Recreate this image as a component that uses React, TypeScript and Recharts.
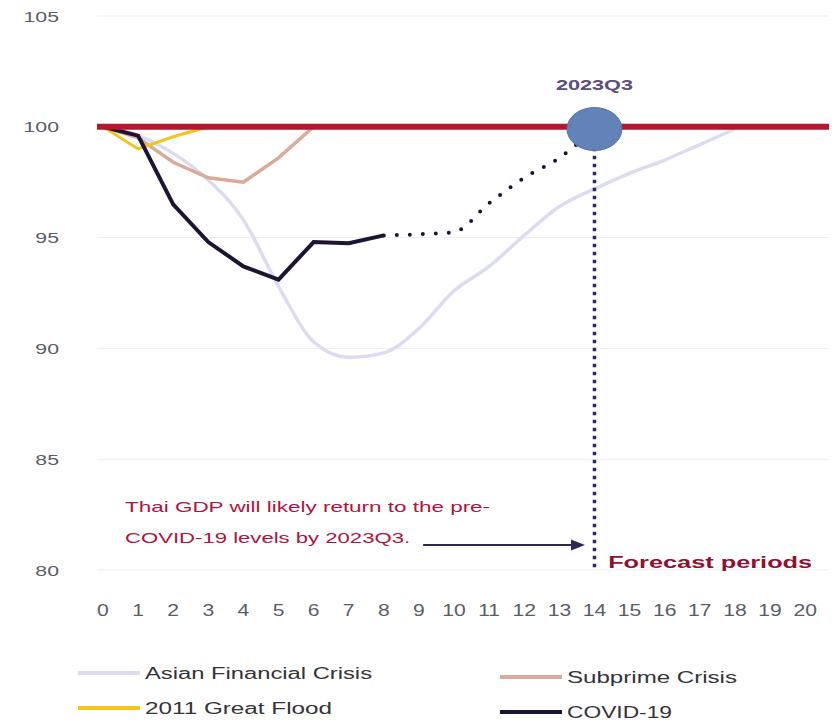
import React from 'react';
import {
  LineChart,
  Line,
  XAxis,
  YAxis,
  CartesianGrid,
  ReferenceLine,
  ReferenceDot,
  Legend,
} from 'recharts';

// ---- data ----
const quarters = [0, 1, 2, 3, 4, 5, 6, 7, 8, 9, 10, 11, 12, 13, 14, 15, 16, 17, 18, 19, 20];
const asianCrisis = [100, 99.6, 98.8, 97.6, 95.8, 92.8, 90.3, 89.6, 89.8, 90.9, 92.6, 93.7, 95.1, 96.4, 97.2, 97.9, 98.5, 99.2, 99.9, null, null];
const subprimeCrisis = [100, 99.5, 98.4, 97.7, 97.5, 98.6, 100, null, null, null, null, null, null, null, null, null, null, null, null, null, null];
const greatFlood = [100, 99.0, 99.55, 100, null, null, null, null, null, null, null, null, null, null, null, null, null, null, null, null, null];
const covid = [100, 99.6, 96.5, 94.8, 93.7, 93.1, 94.8, 94.75, 95.1, null, null, null, null, null, null, null, null, null, null, null, null];
const covidForecast = [null, null, null, null, null, null, null, null, 95.1, 95.15, 95.25, 96.55, 97.7, 98.6, 99.9, null, null, null, null, null, null];
const yTicks = [80, 85, 90, 95, 100, 105];
const preCovidLevel = 100;
const recoveryQuarter = 14;
const recoveryLabel = '2023Q3';
const noteLine1 = 'Thai GDP will likely return to the pre-';
const noteLine2 = 'COVID-19 levels by 2023Q3.';
const forecastLabel = 'Forecast periods';
const seriesNames = ['Asian Financial Crisis', 'Subprime Crisis', '2011 Great Flood', 'COVID-19'];

const rows = quarters.map((q, i) => ({
  q,
  asian: asianCrisis[i],
  subprime: subprimeCrisis[i],
  flood: greatFlood[i],
  covid: covid[i],
  forecast: covidForecast[i],
}));

const FONT = '"Liberation Sans", Arial, Helvetica, sans-serif';

const XTick = (props: any) => {
  const { x, y, payload } = props;
  return (
    <g transform={`translate(${x},${y + 46}) scale(1.32,1)`}>
      <text x={0} y={0} textAnchor="middle" fontFamily={FONT} fontSize={16} fill="#5a5d66">
        {payload.value}
      </text>
    </g>
  );
};

const YTick = (props: any) => {
  const { y, payload } = props;
  return (
    <g transform={`translate(59,${y + 5.5}) scale(1.42,1)`}>
      <text x={0} y={0} textAnchor="end" fontFamily={FONT} fontSize={15} fill="#5a5d66">
        {payload.value}
      </text>
    </g>
  );
};

const ArrowShape = (p: any) => {
  const { x1, y1, x2, y2 } = p;
  return (
    <g>
      <line x1={x1} y1={y1} x2={x2 - 12} y2={y2} stroke="#2c2a50" strokeWidth={2} />
      <polygon points={`${x2},${y2} ${x2 - 14},${y2 - 5.5} ${x2 - 14},${y2 + 5.5}`} fill="#2c2a50" />
    </g>
  );
};

const RecoveryMarker = (p: any) => {
  const { cx, cy } = p;
  return (
    <g>
      <ellipse cx={cx} cy={cy} rx={27.5} ry={21.5} fill="#6282b8" stroke="#5272a8" strokeWidth={1} />
      <text x={cx} y={cy - 39} textAnchor="middle" fontFamily={FONT} fontSize={15} fontWeight="bold" fill="#5b4d7d" textLength={77} lengthAdjust="spacingAndGlyphs">
        {recoveryLabel}
      </text>
    </g>
  );
};

const noteShape = (text: string, len: number) => (p: any) => (
  <text x={p.cx} y={p.cy} fontFamily={FONT} fontSize={15} fill="#b2123c" textLength={len} lengthAdjust="spacingAndGlyphs">
    {text}
  </text>
);

const forecastShape = (p: any) => (
  <text x={p.cx} y={p.cy} fontFamily={FONT} fontSize={16} fontWeight="bold" fill="#8f1030" textLength={204} lengthAdjust="spacingAndGlyphs">
    {forecastLabel}
  </text>
);

const legendSpots: Record<string, { lx: number; ly: number; tx: number; len: number }> = {
  'Asian Financial Crisis': { lx: 78, ly: 673, tx: 145, len: 227 },
  'Subprime Crisis': { lx: 500, ly: 677, tx: 567, len: 170 },
  '2011 Great Flood': { lx: 78, ly: 708, tx: 145, len: 187 },
  'COVID-19': { lx: 500, ly: 712, tx: 567, len: 105 },
};

const LegendContent = (props: any) => {
  const items = (props.payload || []).filter((it: any) => it.type !== 'none');
  return (
    <svg width={837} height={722} style={{ display: 'block' }}>
      {items.map((it: any, i: number) => {
        const s = legendSpots[it.value];
        if (!s) return null;
        return (
          <g key={i}>
            <line x1={s.lx} y1={s.ly} x2={s.lx + 62} y2={s.ly} stroke={it.color} strokeWidth={4} />
            <text x={s.tx} y={s.ly + 6} fontFamily={FONT} fontSize={16} fill="#333338" textLength={s.len} lengthAdjust="spacingAndGlyphs">
              {it.value}
            </text>
          </g>
        );
      })}
    </svg>
  );
};

export default function App() {
  return (
    <div style={{ position: 'absolute', left: 0, top: 0, width: 837, height: 722, background: '#ffffff' }}>
      <LineChart width={837} height={722} data={rows} margin={{ top: 16, right: 8, left: 0, bottom: 122 }}>
        <CartesianGrid vertical={false} stroke="#ededed" strokeWidth={1} />
        <XAxis
          dataKey="q"
          type="number"
          domain={[-0.17, 20.68]}
          ticks={quarters}
          interval={0}
          allowDataOverflow
          tick={<XTick />}
          tickLine={false}
          axisLine={false}
          tickSize={0}
          tickMargin={0}
          height={30}
        />
        <YAxis
          type="number"
          domain={[80, 105]}
          ticks={yTicks}
          interval={0}
          tick={<YTick />}
          tickLine={false}
          axisLine={false}
          tickSize={0}
          tickMargin={0}
          width={97}
        />
        <Legend
          verticalAlign="middle"
          align="center"
          layout="horizontal"
          wrapperStyle={{ left: 0, top: 0, width: 837, height: 722, pointerEvents: 'none' }}
          content={<LegendContent />}
        />
        <Line name={seriesNames[0]} type="monotone" dataKey="asian" stroke="#dcdcf1" strokeWidth={3.5} dot={false} isAnimationActive={false} />
        <Line name={seriesNames[1]} type="linear" dataKey="subprime" stroke="#d9ab98" strokeWidth={3.5} dot={false} isAnimationActive={false} />
        <Line name={seriesNames[2]} type="linear" dataKey="flood" stroke="#f2c41c" strokeWidth={3} dot={false} isAnimationActive={false} />
        <Line name={seriesNames[3]} type="linear" dataKey="covid" stroke="#1c1430" strokeWidth={4} dot={false} isAnimationActive={false} />
        <Line
          name="Forecast"
          legendType="none"
          type="monotone"
          dataKey="forecast"
          stroke="#1c1430"
          strokeWidth={4}
          strokeDasharray="0 13"
          strokeLinecap="round"
          dot={false}
          isAnimationActive={false}
        />
        <ReferenceLine y={preCovidLevel} stroke="#b3172f" strokeWidth={6} />
        <ReferenceLine
          segment={[{ x: recoveryQuarter, y: 99.05 }, { x: recoveryQuarter, y: 80 }]}
          stroke="#2b2a6e"
          strokeWidth={3.5}
          strokeDasharray="3.5 4.5"
        />
        <ReferenceLine segment={[{ x: 9.12, y: 81.13 }, { x: 13.73, y: 81.13 }]} shape={ArrowShape} />
        <ReferenceDot x={recoveryQuarter} y={99.9} r={21} shape={RecoveryMarker} />
        <ReferenceDot x={0.63} y={82.62} r={1} shape={noteShape(noteLine1, 365)} />
        <ReferenceDot x={0.63} y={81.22} r={1} shape={noteShape(noteLine2, 285)} />
        <ReferenceDot x={14.39} y={80.11} r={1} shape={forecastShape} />
      </LineChart>
    </div>
  );
}
